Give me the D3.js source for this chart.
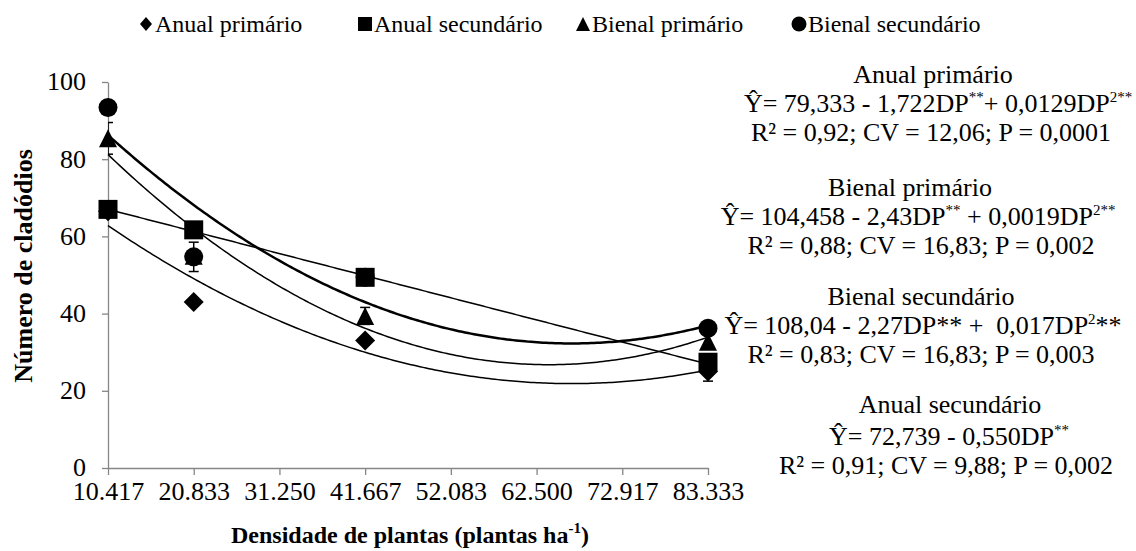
<!DOCTYPE html>
<html><head><meta charset="utf-8">
<script src="https://cdn.jsdelivr.net/npm/d3@7"></script>
<style>
body{margin:0;background:#fff}
svg{display:block}
text{font-family:"Liberation Serif","Times New Roman",serif;fill:#000}
</style>
</head><body>
<svg id="chart" width="1136" height="551"></svg>
<script>
// ---------- data ----------
const densities = [10.417, 20.833, 41.667, 83.333];
const xTickValues = [10.417, 20.833, 31.250, 41.667, 52.083, 62.500, 72.917, 83.333];
const xTickLabels = ["10.417","20.833","31.250","41.667","52.083","62.500","72.917","83.333"];
const yTickValues = [0, 20, 40, 60, 80, 100];
const seriesNames = ["Anual primário", "Anual secundário", "Bienal primário", "Bienal secundário"];

const anualPrimario    = [66.5, 43.0, 33.0, 25.0];
const anualSecundario  = [67.0, 61.7, 49.4, 27.4];
const bienalPrimario   = [85.4, 55.0, 39.4, 32.7];
const bienalSecundario = [93.4, 54.7, 49.4, 36.2];

const anualPrimarioErr    = [0, 0, 0, 2.5];
const anualSecundarioErr  = [0, 0, 0, 0];
const bienalPrimarioErr   = [4.1, 0, 2.2, 0];
const bienalSecundarioErr = [0, 3.8, 0, 0];

// trendline coefficients [a, b, c] for a + b*DP + c*DP^2
const trendAnualPrimario    = [79.333, -1.722, 0.0129];
const trendAnualSecundario  = [72.739, -0.550, 0];
const trendBienalPrimario   = [104.458, -2.43, 0.019];
const trendBienalSecundario = [108.04, -2.27, 0.017];

// ---------- setup ----------
const svg = d3.select("#chart");
const x = d3.scaleLinear().domain([10.417, 83.333]).range([108, 708]);
const y = d3.scaleLinear().domain([0, 100]).range([468, 82]);
const axisColor = "#868686";
const serif = '"Liberation Serif","Times New Roman",serif';

svg.append("defs").append("clipPath").attr("id","plotclip")
  .append("rect").attr("x", x(10.417)).attr("y", y(100)-2).attr("width", 620).attr("height", y(0)-y(100)+4);

// axes
const yAxis = svg.append("g").attr("transform", `translate(${x(10.417)},0)`)
  .call(d3.axisLeft(y).tickValues(yTickValues).tickSize(6).tickSizeOuter(0).tickFormat(d3.format("d")));
yAxis.select(".domain").attr("stroke", axisColor).attr("stroke-width", 1.3);
yAxis.selectAll(".tick line").attr("stroke", axisColor).attr("stroke-width", 1.3);
yAxis.selectAll(".tick text").attr("font-size", 26).attr("x", -22).attr("dy", "0.30em")
  .style("font-family", serif);

const xAxis = svg.append("g").attr("transform", `translate(0,${y(0)})`)
  .call(d3.axisBottom(x).tickValues(xTickValues).tickSize(7).tickSizeOuter(0)
    .tickFormat((d, i) => xTickLabels[i]));
xAxis.select(".domain").attr("stroke", axisColor).attr("stroke-width", 1.3);
xAxis.selectAll(".tick line").attr("stroke", axisColor).attr("stroke-width", 1.3);
xAxis.selectAll(".tick text").attr("font-size", 26).attr("y", 14).attr("dy", "0.71em")
  .style("font-family", serif);

// axis titles
svg.append("text").attr("transform", "translate(32,266) rotate(-90)")
  .attr("text-anchor", "middle").attr("font-size", 26).attr("font-weight", "bold")
  .text("Número de cladódios");
const xt = svg.append("text").attr("x", 410).attr("y", 543).attr("text-anchor", "middle")
  .attr("font-size", 24).attr("font-weight", "bold");
xt.append("tspan").text("Densidade de plantas (plantas ha");
xt.append("tspan").attr("font-size", 15).attr("dy", -10).text("-1");
xt.append("tspan").attr("dy", 10).text(")");

// ---------- marker shapes ----------
function markerPath(kind, s) {
  const h = s / 2;
  if (kind === "diamond") return `M0,${-h}L${h},0L0,${h}L${-h},0Z`;
  if (kind === "square") return `M${-h},${-h}H${h}V${h}H${-h}Z`;
  if (kind === "triangle") return `M0,${-h}L${h},${h}L${-h},${h}Z`;
  return null;
}

const series = [
  {name: seriesNames[0], values: anualPrimario,    err: anualPrimarioErr,    trend: trendAnualPrimario,    shape: "diamond",  lw: 1.5},
  {name: seriesNames[1], values: anualSecundario,  err: anualSecundarioErr,  trend: trendAnualSecundario,  shape: "square",   lw: 1.5},
  {name: seriesNames[2], values: bienalPrimario,   err: bienalPrimarioErr,   trend: trendBienalPrimario,   shape: "triangle", lw: 1.5},
  {name: seriesNames[3], values: bienalSecundario, err: bienalSecundarioErr, trend: trendBienalSecundario, shape: "circle",   lw: 2.5}
];

// trendlines
const tx = d3.range(0, 201).map(i => 10.417 + (83.333 - 10.417) * i / 200);
const line = d3.line().x(d => x(d[0])).y(d => y(d[1]));
const trendG = svg.append("g");
series.forEach(s => {
  const pts = tx.map(v => [v, s.trend[0] + s.trend[1]*v + s.trend[2]*v*v]);
  trendG.append("path").attr("d", line(pts)).attr("fill", "none")
    .attr("stroke", "#000").attr("stroke-width", s.lw);
});

// draw order of markers (last on top)
const drawOrder = [0, 2, 3, 1];
const markerG = svg.append("g");
drawOrder.forEach(k => {
  const s = series[k];
  const eg = markerG.append("g").attr("clip-path", "url(#plotclip)");
  s.values.forEach((v, i) => {
    const e = s.err[i];
    if (!e) return;
    const cx = x(densities[i]);
    eg.append("line").attr("x1", cx).attr("x2", cx).attr("y1", y(v - e)).attr("y2", y(v + e))
      .attr("stroke", "#000").attr("stroke-width", 1.5);
    [v - e, v + e].forEach(t => eg.append("line").attr("x1", cx - 5).attr("x2", cx + 5)
      .attr("y1", y(t)).attr("y2", y(t)).attr("stroke", "#000").attr("stroke-width", 1.5));
  });
  s.values.forEach((v, i) => {
    const cx = x(densities[i]), cy = y(v);
    if (s.shape === "circle") {
      markerG.append("circle").attr("cx", cx).attr("cy", cy).attr("r", 9.5).attr("fill", "#000");
    } else {
      const size = s.shape === "diamond" ? 20 : (s.shape === "triangle" ? 18 : 19);
      markerG.append("path").attr("transform", `translate(${cx},${cy})`)
        .attr("d", markerPath(s.shape, size)).attr("fill", "#000");
    }
  });
});

// ---------- legend ----------
const legendX = [146, 365, 583, 799];
const legendG = svg.append("g");
series.forEach((s, i) => {
  const g = legendG.append("g").attr("transform", `translate(${legendX[i]},24)`);
  if (s.shape === "circle") g.append("circle").attr("r", 7.5).attr("fill", "#000");
  else if (s.shape === "diamond") g.append("path").attr("d", "M0,-7L6,0L0,7L-6,0Z").attr("fill", "#000");
  else g.append("path").attr("d", markerPath(s.shape, 14)).attr("fill", "#000");
  g.append("text").attr("x", 9).attr("y", 8).attr("font-size", 24).text(s.name);
});

// ---------- equations ----------
const eqBlocks = [
  {lines: [
    {x: 933, y: 83,  parts: [["Anual primário"]]},
    {x: 938, y: 112, parts: [["Ŷ= 79,333 - 1,722DP"], ["**", 1], ["+ 0,0129DP"], ["2**", 1]]},
    {x: 931, y: 141, parts: [["R² = 0,92; CV = 12,06; P = 0,0001"]]}
  ]},
  {lines: [
    {x: 910, y: 196, parts: [["Bienal primário"]]},
    {x: 918, y: 225, parts: [["Ŷ= 104,458 - 2,43DP"], ["**", 1], [" + 0,0019DP"], ["2**", 1]]},
    {x: 921, y: 254, parts: [["R² = 0,88; CV = 16,83; P = 0,002"]]}
  ]},
  {lines: [
    {x: 921, y: 305, parts: [["Bienal secundário"]]},
    {x: 923, y: 334, parts: [["Ŷ= 108,04 - 2,27DP** +  0,017DP"], ["2", 1], ["**"]]},
    {x: 921, y: 363, parts: [["R² = 0,83; CV = 16,83; P = 0,003"]]}
  ]},
  {lines: [
    {x: 950, y: 413, parts: [["Anual secundário"]]},
    {x: 949, y: 445, parts: [["Ŷ= 72,739 - 0,550DP"], ["**", 1]]},
    {x: 946, y: 474, parts: [["R² = 0,91; CV = 9,88; P = 0,002"]]}
  ]}
];
const eqG = svg.append("g");
eqBlocks.forEach(b => b.lines.forEach(l => {
  const t = eqG.append("text").attr("x", l.x).attr("y", l.y).attr("text-anchor", "middle")
    .attr("font-size", 26).style("white-space", "pre");
  let raised = false;
  l.parts.forEach(p => {
    const sup = !!p[1];
    const ts = t.append("tspan").text(p[0]);
    if (sup) { ts.attr("font-size", 15); if (!raised) { ts.attr("dy", -10); raised = true; } }
    else if (raised) { ts.attr("dy", 10); raised = false; }
  });
}));
</script>
</body></html>
